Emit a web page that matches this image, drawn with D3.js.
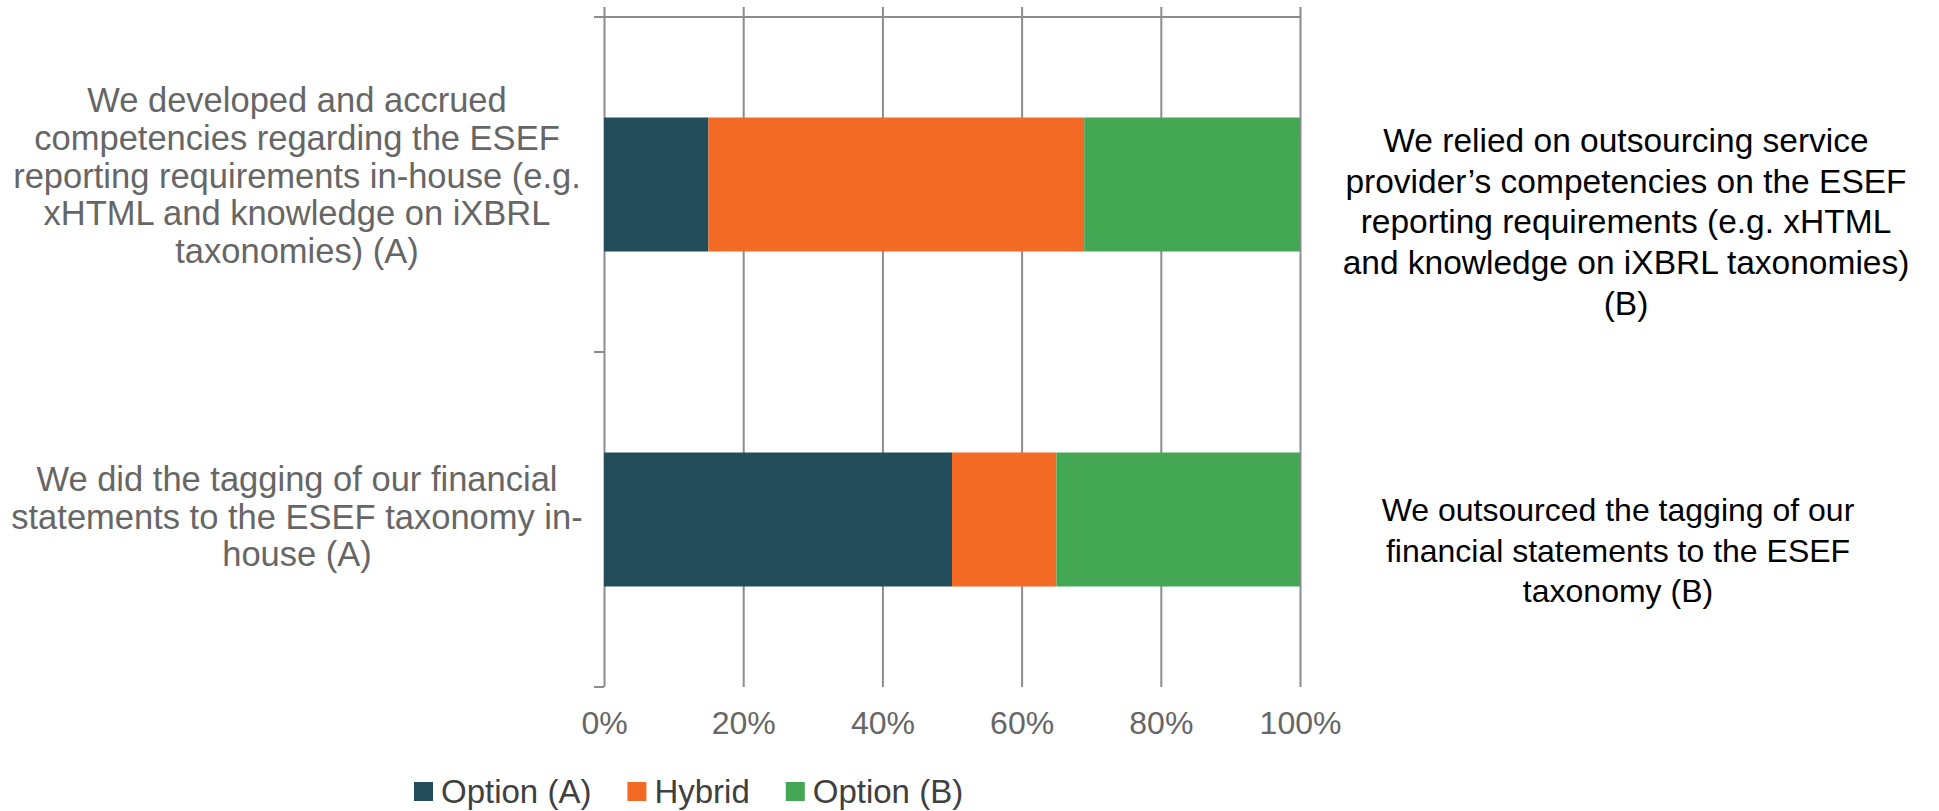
<!DOCTYPE html>
<html>
<head>
<meta charset="utf-8">
<script src="https://cdn.jsdelivr.net/npm/d3@7"></script>
<style>
  html, body { margin: 0; padding: 0; background: #ffffff; }
  svg { display: block; }
</style>
</head>
<body>
<svg id="chart" width="1939" height="811"></svg>
<script>
// ---------------- data ----------------
const categories = ["competencies", "tagging"];
const seriesNames = ["Option (A)", "Hybrid", "Option (B)"];
const optionA = [15, 50];
const hybrid = [54, 15];
const optionB = [31, 35];
const xTicks = [0, 20, 40, 60, 80, 100];
const leftLabels = [
  ["We developed and accrued", "competencies regarding the ESEF", "reporting requirements in-house (e.g.", "xHTML and knowledge on iXBRL", "taxonomies) (A)"],
  ["We did the tagging of our financial", "statements to the ESEF taxonomy in-", "house (A)"]
];
const rightLabels = [
  ["We relied on outsourcing service", "provider\u2019s competencies on the ESEF", "reporting requirements (e.g. xHTML", "and knowledge on iXBRL taxonomies)", "(B)"],
  ["We outsourced the tagging of our", "financial statements to the ESEF", "taxonomy (B)"]
];

// ---------------- styles / layout ----------------
const colors = ["#234d5b", "#f26a24", "#44a754"];
const font = "'Liberation Sans', Arial, sans-serif";
const plot = { left: 604, right: 1300, top: 17, bottom: 687 };

const svg = d3.select("#chart");

const rows = categories.map((c, i) => ({ cat: c, "Option (A)": optionA[i], "Hybrid": hybrid[i], "Option (B)": optionB[i] }));
const stack = d3.stack().keys(seriesNames)(rows);

const x = d3.scaleLinear().domain([0, 100]).range([plot.left, plot.right]);
const y = d3.scaleBand().domain(categories).range([plot.top, plot.bottom]).paddingInner(0.6).paddingOuter(0.3);
const yStep = y.step();

const gridColor = "#8c8c8c";

// gridlines + tick labels (bottom axis)
const xAxis = d3.axisBottom(x).tickValues(xTicks).tickFormat(d => d + "%")
  .tickSizeInner(-(plot.bottom - 7)).tickSizeOuter(0).tickPadding(24);
const gx = svg.append("g").attr("transform", `translate(0,${plot.bottom})`).call(xAxis);
gx.select(".domain").remove();
gx.selectAll(".tick line").attr("stroke", gridColor).attr("stroke-width", 2);
gx.selectAll(".tick text").attr("fill", "#666666").style("font-family", font).style("font-size", "32px");

// top horizontal axis line
svg.append("line")
  .attr("x1", plot.left - 10).attr("x2", x(100) + 1)
  .attr("y1", plot.top).attr("y2", plot.top)
  .attr("stroke", gridColor).attr("stroke-width", 2);

// left axis ticks at category boundaries
const boundaries = [plot.top, plot.top + yStep, plot.bottom];
svg.append("g").selectAll("line").data(boundaries).join("line")
  .attr("x1", plot.left - 10).attr("x2", plot.left)
  .attr("y1", d => d).attr("y2", d => d)
  .attr("stroke", gridColor).attr("stroke-width", 2);

// bars
svg.append("g").selectAll("g").data(stack).join("g")
  .attr("fill", (d, i) => colors[i])
  .selectAll("rect").data(d => d).join("rect")
  .attr("x", d => x(d[0]))
  .attr("width", d => x(d[1]) - x(d[0]))
  .attr("y", d => y(d.data.cat))
  .attr("height", y.bandwidth());

// left category labels
const leftCx = 297, leftSpacing = 37.8, leftFs = 34.5;
const leftOffsets = [3, 9];
leftLabels.forEach((lines, i) => {
  const cy = y(categories[i]) + y.bandwidth() / 2;
  const n = lines.length;
  const t = svg.append("text")
    .attr("text-anchor", "middle")
    .attr("fill", "#666666")
    .style("font-family", font).style("font-size", leftFs + "px");
  lines.forEach((ln, j) => {
    t.append("tspan").attr("x", leftCx)
      .attr("y", cy + leftOffsets[i] + (j - (n - 1) / 2) * leftSpacing)
      .text(ln);
  });
});

// right labels
const rightLayout = [
  { cx: 1626, firstBaseline: 151.7, spacing: 40.8, fs: 33.5 },
  { cx: 1618, firstBaseline: 521, spacing: 40.5, fs: 32 }
];
rightLabels.forEach((lines, i) => {
  const L = rightLayout[i];
  const t = svg.append("text")
    .attr("text-anchor", "middle")
    .attr("fill", "#000000")
    .style("font-family", font).style("font-size", L.fs + "px");
  lines.forEach((ln, j) => {
    t.append("tspan").attr("x", L.cx).attr("y", L.firstBaseline + j * L.spacing).text(ln);
  });
});

// legend
const legend = svg.append("g").attr("transform", "translate(414,0)");
let lx = 0;
seriesNames.forEach((name, i) => {
  const g = legend.append("g").attr("transform", `translate(${lx},0)`);
  g.append("rect").attr("x", 0).attr("y", 782).attr("width", 19).attr("height", 19).attr("fill", colors[i]);
  const txt = g.append("text").attr("x", 27).attr("y", 803)
    .attr("fill", "#404040")
    .style("font-family", font).style("font-size", "33px")
    .text(name);
  const w = txt.node().getComputedTextLength();
  lx += 27 + w + 36;
});
</script>
</body>
</html>
